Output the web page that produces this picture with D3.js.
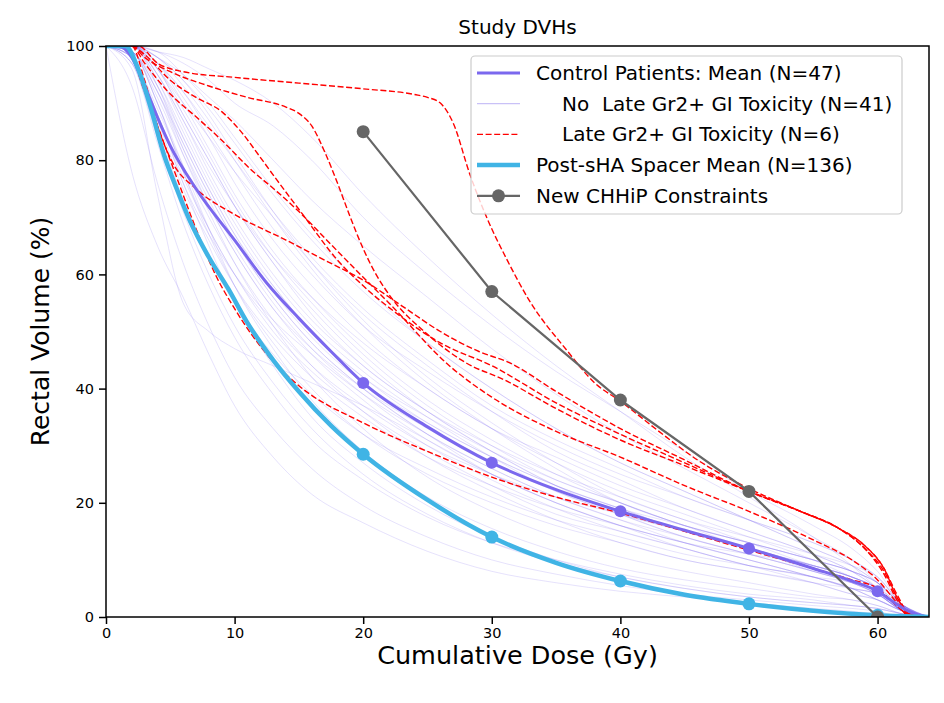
<!DOCTYPE html>
<html>
<head>
<meta charset="utf-8">
<title>Study DVHs</title>
<script src="https://d3js.org/d3.v7.min.js"></script>
<style>
  body { margin: 0; background: #fff; }
  text { font-family: "DejaVu Sans", sans-serif; fill: #000; }
  .leg { white-space: pre; }
</style>
</head>
<body>
<div id="chart"></div>
<script>
// dose grid shared by the individual patient DVHs (Gy)
var doseGrid = [0, 2, 4, 6, 8, 10, 13, 16, 20, 25, 30, 35, 40, 45, 50, 55, 58, 60, 62, 64];

// control patients without late toxicity (N=41), rectal volume % at doseGrid
var noToxCurves = [
  [100,100,96,88,80,72,62,54,45,36,29,23,19,15,12,8,6,4,1,0],
  [100,97,83,69,58,49,39,31,24,17.5,13,10,7.5,5.5,4,3,2,1.5,0.5,0],
  [100,100,98,94,89,83,74,66,57,48,40,33,27,22,17,12,9,6,2,0],
  [100,93,76,62,51,42,33,26,19.5,14,10,7.5,5.5,4,3,2,1.5,1,0,0],
  [100,100,97,92,86,80,71,63,54,45,37,31,26,21,17,13,10,7,2,0],
  [100,99,90,78,68,60,50,43,36,29,23,18,15,12,9,7,5,3,1,0],
  [100,100,99,97,94,90,86,80,70,60,51,43,36,29,22,16,12,8,2,0],
  [100,78,65,56,46,37,28,21.5,16.5,11.5,8,6,4.5,3.5,2.5,1.5,1,0.5,0,0],
  [100,100,93,82,72,64,54,47,40,33,27,22,18,15,12,9,7,5,1,0],
  [100,98,88,76,67,60,52,46,39,32,26,21,17,13,10,7,5,3,1,0],
  [100,100,95,87,79,72,63,56,48,40,33,28,23,19,15,11,8,5,1,0],
  [100,96,74,55,50,47,44,41,37,31,25,20,16,13,10,7,5,3,1,0],
  [100,100,97,90,82,74,64,56,47,38,31,25,20,16,13,10,8,6,2,0],
  [100,99,92,81,71,62,51,42,33,24.5,18.5,14,10.5,8,6,4,3,2,0.5,0],
  [100,100,98,95,91,87,80,73,65,56,47,39,32,26,20,14,10,6,1,0],
  [100,100,94,84,75,67,58,50,42,34,28,23,19,16,13,10,8,6,2,0],
  [100,97,86,73,63,55,46,39,32,26,21,17,14,11,9,7,6,4,1,0],
  [100,100,96,90,84,78,70,62,53,44,36,29,24,19,15,11,8,5,1,0],
  [100,99,92,83,74,66,56,48,40,32,25,20,16,12,9,6,4,3,1,0],
  [100,100,99,98,96,94,90,84,74,63,53,44,36,28,21,14,9,5,1,0],
  [100,98,87,75,66,58,49,42,35,28,23,19,16,13,11,9,7,5,2,0],
  [100,100,95,86,77,69,59,51,43,35,28,22,18,14,11,8,6,4,1,0],
  [100,97,84,71,60,51,41,33,25,18,13,9.5,7,5,3.5,2.5,2,1.5,0.5,0],
  [100,100,97,91,84,76,66,58,49,40,33,27,22,18,14,10,7,5,1,0],
  [100,99,90,78,67,58,48,40,32,25,20,16,13,10,8,6,5,4,1,0],
  [100,100,96,89,81,73,63,55,46,37,30,24,20,16,13,10,8,6,2,0],
  [100,98,89,79,70,62,52,44,36,28,22,17,13,10,8,6,4,3,1,0],
  [100,100,98,94,88,81,71,62,52,42,34,27,21,17,13,9,7,5,1,0],
  [100,99,93,84,75,67,57,49,41,34,28,23,19,15,12,9,7,5,1,0],
  [100,100,95,87,78,70,60,52,44,36,30,25,21,17,14,11,9,7,2,0],
  [100,98,88,76,65,55,44,35,27,19.5,14,10,7,5,3.5,2.5,2,1.5,0.5,0],
  [100,100,97,92,85,78,68,60,51,43,36,30,25,21,17,13,10,7,2,0],
  [100,99,91,81,72,64,54,46,38,30,24,19,15,12,9,7,5,4,1,0],
  [100,100,98,93,87,80,70,61,51,41,33,26,20,16,12,9,7,5,1,0],
  [100,98,88,77,68,60,51,44,37,30,25,21,18,15,12,9,7,5,2,0],
  [100,100,94,85,76,68,58,50,42,35,29,24,20,16,13,10,8,6,2,0],
  [100,99,92,82,73,65,55,47,39,31,25,20,16,13,10,7,5,4,1,0],
  [100,100,96,88,80,72,62,53,44,36,29,23,18,14,11,8,6,4,1,0],
  [100,99,90,79,68,58,47,38,29,21,15.5,11.5,8.5,6.5,5,3.5,3,2,0.5,0],
  [100,100,99,95,90,84,75,67,58,48,40,33,27,22,17,12,9,6,2,0],
  [100,100,93,83,74,66,56,48,40,32,26,21,17,14,11,8,6,4,1,0]
];

// control patients with late Gr2+ GI toxicity (N=6): [dose, volume] pairs
var toxCurves = [
  [[0,100],[2.5,100],[4,97],[6,95.5],[10,94.5],[15,93.5],[20,92.5],[24,91.5],[25,91],[26,90],[27,86.5],[28.3,77.5],[29.6,70],[31.2,62.5],[32.9,55.5],[35.8,46.8],[38,41],[40,37.8],[43,32.5],[46,27.5],[50,22.5],[54,18.5],[57,15.5],[59,12.5],[60.5,8.5],[61.5,3.5],[62.5,0.5],[64,0]],
  [[0,100],[2,100],[3,98],[5,95.5],[8,93],[11,91],[14,89.3],[15,88.2],[16,86],[17,81.5],[18,76],[19,70],[20,64.5],[21,60],[22,56.5],[25,49.5],[28,44.5],[31,41.5],[35,36.5],[40,31],[45,26.5],[50,22],[54,18.5],[57,15.5],[59,12],[60.5,8],[61.5,3.5],[62.5,0.5],[64,0]],
  [[0,100],[2,100],[3,98.5],[5,94],[7,91],[9,88.5],[10.5,85],[12,80.5],[13.3,76.5],[15.3,70.5],[18,62.5],[20,58],[23,52.5],[26,48],[30,44],[35,37.5],[40,32],[45,27],[50,22],[54,18.5],[57,15.5],[59,12],[60.5,7.5],[61.5,3],[62.3,0.5],[64,0]],
  [[0,100],[2,100],[3,97],[4.7,92.3],[7.3,87],[9,83.5],[11.2,78.5],[13.3,74.5],[15,71],[17.6,65],[20,59.5],[22,55],[26.7,44],[30,38.5],[35,32.5],[40,28],[45,23],[50,18.5],[55,13.5],[58,10],[60,6.5],[61.5,2.5],[62.5,0],[64,0]],
  [[0,100],[2,100],[3,94],[4,86],[5.2,79.5],[7,75],[10,70.5],[14,66],[17,62.5],[20,59],[23,54.5],[26,50],[29,46.5],[31.4,44.5],[35,39.5],[40,33],[45,27.5],[50,22],[54,18.5],[57,15.5],[59,12.5],[60.5,8.5],[61.5,4],[62.5,0.5],[64,0]],
  [[0,100],[1.5,100],[3,92],[5,80],[7,68],[8.5,60],[10,54],[12.7,45.5],[15,40.5],[20,34],[25,29],[30,24.5],[35,21],[40,18.2],[45,15],[50,11.7],[55,8.5],[58,6.5],[60,5],[61,3],[62,1],[63,0],[64,0]]
];

// control mean and post-spacer mean: [dose, volume]
var controlMean = [[0,100],[1,100],[2,98],[3,93],[4,87.5],[5,82.5],[7,75],[10,66],[12.5,58.5],[15,52.3],[17.5,46.5],[20,41],[25,33.3],[30,27],[35,22.3],[40,18.5],[45,15.2],[50,12],[55,8.5],[58,6.3],[60,4.5],[61,3],[62,1.5],[63,0.5],[64,0]];
var spacerMean = [[0,100],[1.5,100],[2.5,96],[3.5,89],[4.5,81],[5.5,75],[6.5,69.5],[8,63],[9.5,57.5],[11,51.5],[13,45],[15,39.5],[17.5,33.5],[20,28.5],[25,20.5],[30,14],[35,9.5],[40,6.3],[45,3.9],[50,2.3],[55,1.1],[60,0.3],[64,0]];
var markerDoses = [20, 30, 40, 50, 60];

// new CHHiP constraints
var chhipDose = [20, 30, 40, 50, 60];
var chhipVol = [85, 57, 38, 22, 0];

var xTicks = [0, 10, 20, 30, 40, 50, 60];
var yTicks = [0, 20, 40, 60, 80, 100];

var W = 944, H = 703;
var m = {left: 106, right: 15, top: 46, bottom: 86};

var svg = d3.select("#chart").append("svg").attr("width", W).attr("height", H);

var x = d3.scaleLinear().domain([0, 64]).range([m.left, W - m.right]);
var y = d3.scaleLinear().domain([0, 100]).range([H - m.bottom, m.top]);

svg.append("clipPath").attr("id", "clip").append("rect")
   .attr("x", m.left).attr("y", m.top)
   .attr("width", W - m.right - m.left).attr("height", H - m.bottom - m.top);

var plot = svg.append("g").attr("clip-path", "url(#clip)");

var line = d3.line()
   .x(function(d) { return x(d[0]); })
   .y(function(d) { return y(d[1]); })
   .curve(d3.curveMonotoneX);

// thin individual curves
plot.selectAll(".thin").data(noToxCurves).enter().append("path")
   .attr("d", function(v) { return line(v.map(function(val, i) { return [doseGrid[i], val]; })); })
   .attr("fill", "none").attr("stroke", "#7b68ee").attr("stroke-opacity", 0.28).attr("stroke-width", 0.7);

// toxicity curves
plot.selectAll(".tox").data(toxCurves).enter().append("path")
   .attr("d", line)
   .attr("fill", "none").attr("stroke", "red").attr("stroke-width", 1.4)
   .attr("stroke-dasharray", "6,2.6");

// interpolate a mean curve at the marker doses
function at(curve, d0) {
  for (var i = 1; i < curve.length; i++) {
    if (curve[i][0] >= d0) {
      var a = curve[i - 1], b = curve[i];
      return a[1] + (b[1] - a[1]) * (d0 - a[0]) / (b[0] - a[0]);
    }
  }
  return 0;
}

// control mean
plot.append("path").attr("d", line(controlMean))
   .attr("fill", "none").attr("stroke", "#7b68ee").attr("stroke-width", 3);
plot.selectAll(".cm").data(markerDoses).enter().append("circle")
   .attr("cx", function(d) { return x(d); }).attr("cy", function(d) { return y(at(controlMean, d)); })
   .attr("r", 6).attr("fill", "#7b68ee");

// spacer mean
plot.append("path").attr("d", line(spacerMean))
   .attr("fill", "none").attr("stroke", "#40b4e5").attr("stroke-width", 4.5);
plot.selectAll(".sm").data(markerDoses).enter().append("circle")
   .attr("cx", function(d) { return x(d); }).attr("cy", function(d) { return y(at(spacerMean, d)); })
   .attr("r", 6.5).attr("fill", "#40b4e5");

// constraints
var cpts = chhipDose.map(function(d, i) { return [d, chhipVol[i]]; });
plot.append("path").attr("d", d3.line().x(function(d) { return x(d[0]); }).y(function(d) { return y(d[1]); })(cpts))
   .attr("fill", "none").attr("stroke", "#666666").attr("stroke-width", 2.2);
plot.selectAll(".cp").data(cpts).enter().append("circle")
   .attr("cx", function(d) { return x(d[0]); }).attr("cy", function(d) { return y(d[1]); })
   .attr("r", 6.5).attr("fill", "#666666");

// axes
var xAxis = svg.append("g").attr("transform", "translate(0," + (H - m.bottom) + ")")
   .call(d3.axisBottom(x).tickValues(xTicks).tickSize(7).tickPadding(4));
var yAxis = svg.append("g").attr("transform", "translate(" + m.left + ",0)")
   .call(d3.axisLeft(y).tickValues(yTicks).tickSize(7).tickPadding(5));
[xAxis, yAxis].forEach(function(g) {
  g.select(".domain").remove();
  g.selectAll("line").attr("stroke", "#000").attr("stroke-width", 1.5);
  g.selectAll("text").attr("font-size", 14.5).attr("font-family", "DejaVu Sans").attr("fill", "#000");
});

// frame
svg.append("rect").attr("x", m.left).attr("y", m.top)
   .attr("width", W - m.right - m.left).attr("height", H - m.bottom - m.top)
   .attr("fill", "none").attr("stroke", "#000").attr("stroke-width", 1.5);

// titles
svg.append("text").attr("x", (m.left + W - m.right) / 2).attr("y", 34)
   .attr("text-anchor", "middle").attr("font-size", 20).text("Study DVHs");
svg.append("text").attr("x", (m.left + W - m.right) / 2).attr("y", 664)
   .attr("text-anchor", "middle").attr("font-size", 25.5).text("Cumulative Dose (Gy)");
svg.append("text").attr("transform", "translate(49," + ((m.top + H - m.bottom) / 2) + ") rotate(-90)")
   .attr("text-anchor", "middle").attr("font-size", 25).text("Rectal Volume (%)");

// legend
var leg = svg.append("g");
leg.append("rect").attr("x", 471).attr("y", 56).attr("width", 431).attr("height", 158)
   .attr("rx", 4).attr("fill", "#fff").attr("fill-opacity", 0.8)
   .attr("stroke", "#cccccc").attr("stroke-width", 1.2);
var legItems = [
  {label: "Control Patients: Mean (N=47)", tx: 536, color: "#7b68ee", w: 3, op: 1},
  {label: "No  Late Gr2+ GI Toxicity (N=41)", tx: 562, color: "#7b68ee", w: 1, op: 0.5},
  {label: "Late Gr2+ GI Toxicity (N=6)", tx: 562, color: "red", w: 1.4, op: 1, dash: "6,2.6"},
  {label: "Post-sHA Spacer Mean (N=136)", tx: 536, color: "#40b4e5", w: 4.5, op: 1},
  {label: "New CHHiP Constraints", tx: 536, color: "#666666", w: 2.2, op: 1, dot: true}
];
legItems.forEach(function(it, i) {
  var yy = 73 + i * 30.7;
  leg.append("line").attr("x1", 477).attr("x2", 520).attr("y1", yy).attr("y2", yy)
     .attr("stroke", it.color).attr("stroke-width", it.w).attr("stroke-opacity", it.op)
     .attr("stroke-dasharray", it.dash || null);
  if (it.dot) leg.append("circle").attr("cx", 498.5).attr("cy", yy).attr("r", 6.5).attr("fill", it.color);
  leg.append("text").attr("class", "leg").attr("x", it.tx).attr("y", yy).attr("dy", "0.35em")
     .attr("font-size", 20).text(it.label);
});
</script>
</body>
</html>
